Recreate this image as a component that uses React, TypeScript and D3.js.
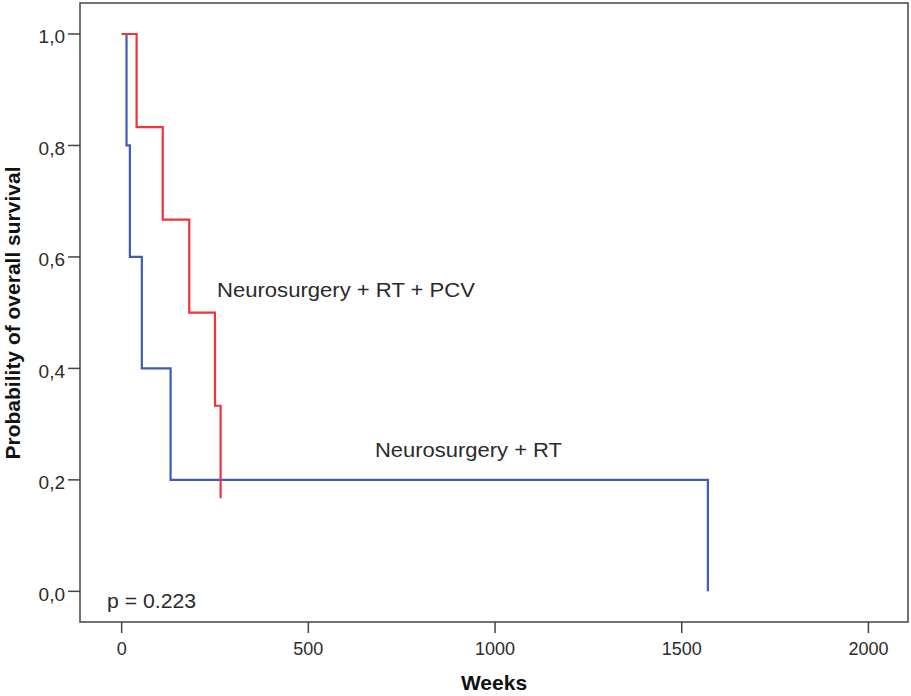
import React from "react";
import * as d3 from "d3";

// Kaplan-Meier steps (weeks, survival)
const rtWeeks = [0, 13, 22, 54, 131, 1570];
const rtSurvival = [1, 0.8, 0.6, 0.4, 0.2, 0];
const pcvWeeks = [0, 40, 110, 181, 250, 265];
const pcvSurvival = [1, 0.833, 0.667, 0.5, 0.333, 0.167];

const xTicks = [0, 500, 1000, 1500, 2000];
const yTicks = [0, 0.2, 0.4, 0.6, 0.8, 1.0];

const blue = "#3f5db6";
const red = "#f0323a";
const ink = "#2b2b2b";
const font = "Arial, 'Liberation Sans', sans-serif";

const width = 911;
const height = 696;
const left = 80;
const right = 908;
const top = 3;
const bottom = 622;

const App = () => {
  const xScale = d3.scaleLinear().domain([-111.6, 2106]).range([left, right]);
  const yScale = d3.scaleLinear().domain([-0.055, 1.0556]).range([bottom, top]);

  const step = d3
    .line<[number, number]>()
    .x((d) => xScale(d[0]))
    .y((d) => yScale(d[1]))
    .curve(d3.curveStepAfter);

  const rtPath = step(rtWeeks.map((w, i) => [w, rtSurvival[i]] as [number, number])) || "";
  const pcvPath = step(pcvWeeks.map((w, i) => [w, pcvSurvival[i]] as [number, number])) || "";

  return (
    <svg
      width={width}
      height={height}
      style={{ position: "absolute", left: 0, top: 0, background: "#fff" }}
      fontFamily={font}
    >
      <defs>
        <clipPath id="rtLabelClip">
          <rect x={0} y={0} width={width} height={461.5} />
        </clipPath>
      </defs>

      {/* frame */}
      <rect
        x={left}
        y={top}
        width={right - left}
        height={bottom - top}
        fill="none"
        stroke="#444"
        strokeWidth={1.5}
      />

      {/* y axis */}
      {yTicks.map((t) => (
        <g key={"y" + t}>
          <line x1={left - 12} x2={left} y1={yScale(t)} y2={yScale(t)} stroke="#444" strokeWidth={1.5} />
          <text x={left - 15} y={yScale(t) + 9.5} textAnchor="end" fontSize={19} fill={ink}>
            {t.toFixed(1).replace(".", ",")}
          </text>
        </g>
      ))}

      {/* x axis */}
      {xTicks.map((t) => (
        <g key={"x" + t}>
          <line x1={xScale(t)} x2={xScale(t)} y1={bottom} y2={bottom + 11} stroke="#444" strokeWidth={1.5} />
          <text x={xScale(t)} y={655} textAnchor="middle" fontSize={18} fill={ink}>
            {t}
          </text>
        </g>
      ))}

      <text x={494} y={690} textAnchor="middle" fontSize={21} fontWeight="bold" fill="#111">
        Weeks
      </text>
      <text
        transform="translate(20,313) rotate(-90)"
        textAnchor="middle"
        fontSize={21}
        fontWeight="bold"
        fill="#111"
      >
        Probability of overall survival
      </text>

      {/* curves */}
      <path d={rtPath} fill="none" stroke={blue} strokeWidth={2.2} />
      <path d={pcvPath} fill="none" stroke={red} strokeWidth={2.2} />

      {/* labels */}
      <text x={217} y={297} fontSize={20} fill={ink} textLength={258} lengthAdjust="spacingAndGlyphs">
        Neurosurgery + RT + PCV
      </text>
      <text
        x={375}
        y={457}
        fontSize={20}
        fill={ink}
        textLength={187}
        lengthAdjust="spacingAndGlyphs"
        clipPath="url(#rtLabelClip)"
      >
        Neurosurgery + RT
      </text>
      <text x={107} y={608} fontSize={20} fill={ink} textLength={89} lengthAdjust="spacingAndGlyphs">
        p = 0.223
      </text>
    </svg>
  );
};

export default App;
